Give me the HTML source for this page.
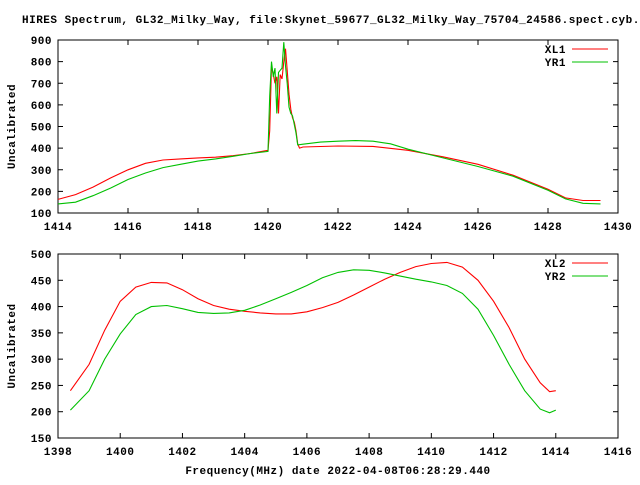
<!DOCTYPE html>
<html><head><meta charset="utf-8"><style>
body{margin:0;background:#fff}
svg text{font-family:"Liberation Mono",monospace;font-weight:bold;font-size:11px;letter-spacing:0.5px;fill:#000}
</style></head><body>
<svg id="c" width="640" height="480">
<text x="22" y="23">HIRES Spectrum, GL32_Milky_Way, file:Skynet_59677_GL32_Milky_Way_75704_24586.spect.cyb.txt</text>
<text x="338" y="474" text-anchor="middle">Frequency(MHz) date 2022-04-08T06:28:29.440</text>
</svg>
<script>
const f1=[1414,1414.5,1415,1415.5,1416,1416.5,1417,1417.5,1418,1418.5,1419,1419.5,1420,1420.05,1420.1,1420.15,1420.2,1420.25,1420.3,1420.35,1420.4,1420.45,1420.5,1420.55,1420.6,1420.65,1420.7,1420.75,1420.8,1420.85,1420.9,1421,1422,1423,1424,1425,1426,1427,1428,1428.5,1429,1429.5];
const xl1=[163,185,220,262,300,330,345,350,355,358,365,375,390,480,780,740,700,730,560,740,720,800,860,760,650,580,540,520,480,420,400,405,410,408,390,360,325,275,210,170,158,158];
const g1=[1414,1414.5,1415,1415.5,1416,1416.5,1417,1417.5,1418,1418.5,1419,1419.5,1420,1420.05,1420.1,1420.15,1420.2,1420.25,1420.3,1420.35,1420.4,1420.45,1420.5,1420.55,1420.6,1420.65,1420.7,1420.8,1420.85,1421,1421.5,1422,1422.5,1423,1423.5,1424,1425,1426,1427,1428,1428.5,1429,1429.5];
const yr1=[142,150,180,215,255,285,310,325,340,350,362,375,385,640,800,730,770,560,750,760,770,890,780,700,590,560,550,470,415,418,428,432,435,432,420,395,355,315,270,205,165,145,142];
const f2=[1398.4,1399,1399.5,1400,1400.5,1401,1401.5,1402,1402.5,1403,1403.5,1404,1404.5,1405,1405.5,1406,1406.5,1407,1407.5,1408,1408.5,1409,1409.5,1410,1410.5,1411,1411.5,1412,1412.5,1413,1413.5,1413.8,1414];
const xl2=[240,290,355,410,437,446,445,432,415,402,395,391,388,386,386,390,398,408,422,437,452,465,476,482,484,475,450,410,360,300,255,238,240];
const yr2=[203,240,300,348,385,400,402,396,389,387,388,393,403,415,427,440,455,465,470,469,464,458,452,447,440,425,395,345,290,240,205,198,203];
const xt1=[1414,1416,1418,1420,1422,1424,1426,1428,1430];
const yt1=[100,200,300,400,500,600,700,800,900];
const xt2=[1398,1400,1402,1404,1406,1408,1410,1412,1414,1416];
const yt2=[150,200,250,300,350,400,450,500];
const svg=document.getElementById('c');const NS='http://www.w3.org/2000/svg';
function el(t,a){const e=document.createElementNS(NS,t);for(const k in a)e.setAttribute(k,a[k]);svg.appendChild(e);return e;}
function panel(p,id){
 const L=58,R=618;
 const sx=v=>L+(v-p.x0)/(p.x1-p.x0)*(R-L);
 const sy=v=>p.b-(v-p.y0)/(p.y1-p.y0)*(p.b-p.t);
 const fr=el('rect',{x:L,y:p.t,width:R-L,height:p.b-p.t,fill:'none',stroke:'#000','stroke-width':1});
 
 
 p.xt.forEach(v=>{const x=sx(v);
  el('line',{x1:x,x2:x,y1:p.b,y2:p.b-5,stroke:'#000'});el('line',{x1:x,x2:x,y1:p.t,y2:p.t+5,stroke:'#000'});
  const t=el('text',{x:x,y:p.b+17,'text-anchor':'middle'});t.textContent=v;
  
  });
 p.yt.forEach(v=>{const y=sy(v);
  el('line',{x1:L,x2:L+5,y1:y,y2:y,stroke:'#000'});el('line',{x1:R,x2:R-5,y1:y,y2:y,stroke:'#000'});
  const t=el('text',{x:L-6,y:y+4,'text-anchor':'end'});t.textContent=v;
  
  });
 const yl=el('text',{x:0,y:0,'text-anchor':'middle',transform:`translate(15,${(p.t+p.b)/2}) rotate(-90)`});yl.textContent='Uncalibrated';
 
 
 p.s.forEach((s,i)=>{
  let d='';s.f.forEach((v,j)=>{d+=(j?'L':'M')+sx(v).toFixed(1)+','+sy(s.v[j]).toFixed(1);});
  const pa=el('path',{d:d,fill:'none',stroke:s.c,'stroke-width':1.1});
  
  
  const ly=p.t+9+i*13;
  const lt=el('text',{x:566,y:ly+4,'text-anchor':'end'});lt.textContent=s.n;
  
  
  el('line',{x1:572,x2:608,y1:ly,y2:ly,stroke:s.c,'stroke-width':1});
 });
}
panel({x0:1414,x1:1430,y0:100,y1:900,t:40,b:213,xt:xt1,yt:yt1,s:[{f:f1,v:xl1,c:'#ff0000',n:'XL1'},{f:g1,v:yr1,c:'#00c000',n:'YR1'}]},'top');
panel({x0:1398,x1:1416,y0:150,y1:500,t:254,b:438,xt:xt2,yt:yt2,s:[{f:f2,v:xl2,c:'#ff0000',n:'XL2'},{f:f2,v:yr2,c:'#00c000',n:'YR2'}]},'bottom');
</script>
</body></html>
